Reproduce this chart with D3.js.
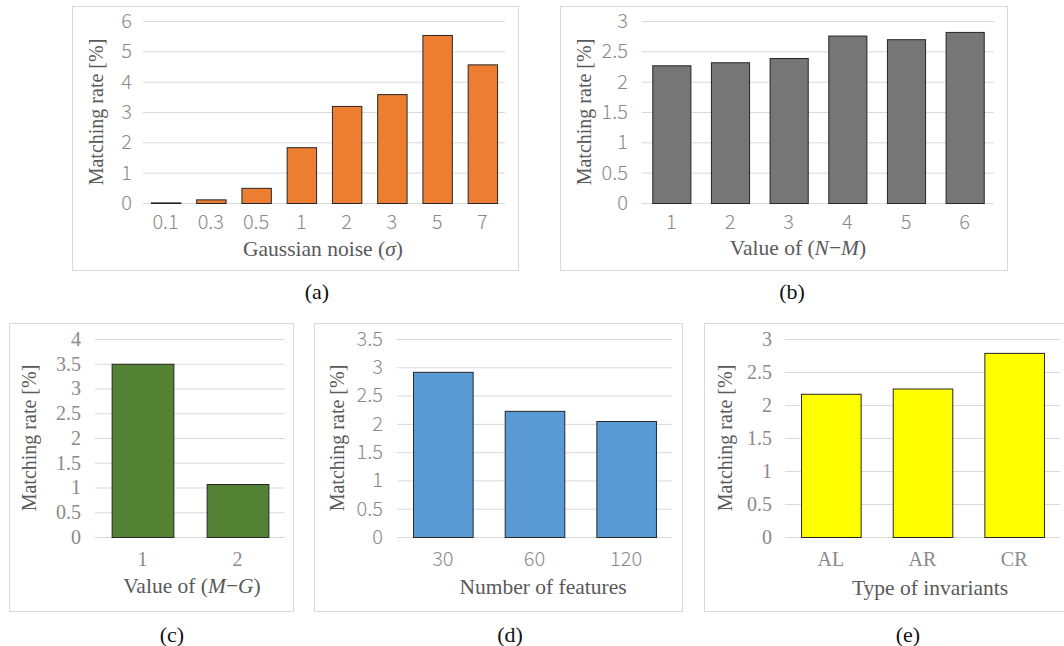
<!DOCTYPE html>
<html><head><meta charset="utf-8">
<script src="https://cdn.jsdelivr.net/npm/d3@7"></script>
<style>
html,body{margin:0;padding:0;background:#fff;}
svg{display:block;}
</style></head>
<body>
<svg id="c" width="1064" height="646"></svg>
<script>
// ---- data ----
const catsA = ["0.1","0.3","0.5","1","2","3","5","7"];
const valsA = [0.02,0.12,0.5,1.84,3.2,3.59,5.54,4.57];
const ticksA = [0,1,2,3,4,5,6];

const catsB = ["1","2","3","4","5","6"];
const valsB = [2.27,2.32,2.39,2.76,2.70,2.82];
const ticksB = [0,0.5,1,1.5,2,2.5,3];

const catsC = ["1","2"];
const valsC = [3.5,1.07];
const ticksC = [0,0.5,1,1.5,2,2.5,3,3.5,4];

const catsD = ["30","60","120"];
const valsD = [2.92,2.23,2.05];
const ticksD = [0,0.5,1,1.5,2,2.5,3,3.5];

const catsE = ["AL","AR","CR"];
const valsE = [2.17,2.25,2.79];
const ticksE = [0,0.5,1,1.5,2,2.5,3];

const SANS = "'Noto Sans CJK KR','Noto Sans',sans-serif";
const SERIF = "'Liberation Serif','DejaVu Serif',serif";

const svg = d3.select("#c");

function panel(o){
  const g = svg.append("g");
  // frame
  g.append("rect").attr("x",o.frame[0]+0.5).attr("y",o.frame[1]+0.5)
    .attr("width",o.frame[2]-o.frame[0]).attr("height",o.frame[3]-o.frame[1])
    .attr("fill","#fff").attr("stroke","#d9d9d9").attr("stroke-width",1);
  const x = d3.scaleBand().domain(o.cats).range([o.plot[0],o.plot[2]])
    .paddingInner(0.35).paddingOuter(0.175);
  const y = d3.scaleLinear().domain([0,o.ticks[o.ticks.length-1]]).range([o.plot[3],o.plot[1]]);
  // gridlines
  const ya = d3.axisLeft(y).tickValues(o.ticks).tickSize(-(o.plot[2]-o.plot[0])).tickPadding(o.tickPad)
    .tickFormat(d=>String(d));
  const yg = g.append("g").attr("transform",`translate(${o.plot[0]},0)`).call(ya);
  yg.select(".domain").remove();
  yg.selectAll(".tick line").attr("stroke","#d9d9d9").attr("stroke-width",1);
  yg.selectAll(".tick text").attr("fill","#8a8a8a").style("font-family",o.tickFont)
    .style("font-size",o.tickSize+"px").style("font-weight",o.tickWeight||400);
  // bars
  g.selectAll("rect.bar").data(o.vals).enter().append("rect").attr("class","bar")
    .attr("x",(d,i)=>x(o.cats[i])+0.5)
    .attr("y",d=>y(d)+0.5)
    .attr("width",x.bandwidth())
    .attr("height",d=>y(0)-y(d))
    .attr("fill",o.color).attr("stroke","#262626").attr("stroke-width",1);
  // x axis labels
  const xa = d3.axisBottom(x).tickSize(0).tickPadding(o.xPad);
  const xg = g.append("g").attr("transform",`translate(0,${o.plot[3]})`).call(xa);
  xg.select(".domain").remove();
  xg.selectAll(".tick text").attr("fill","#8a8a8a").style("font-family",o.tickFont)
    .style("font-size",o.tickSize+"px").style("font-weight",o.tickWeight||400);
  // x title
  const t = g.append("text").attr("x",o.xTitle[0]).attr("y",o.xTitle[1]).attr("text-anchor","middle")
    .attr("fill","#595959").style("font-family",SERIF).style("font-size","21.5px");
  o.xTitleParts.forEach(p=>{
    t.append("tspan").text(p[0]).style("font-style",p[1]?"italic":"normal");
  });
  // y title
  g.append("text").attr("transform",`translate(${o.yTitleX},${(o.plot[1]+o.plot[3])/2}) rotate(-90)`)
    .attr("text-anchor","middle").attr("dy","0.35em").attr("fill","#595959")
    .style("font-family",SERIF).style("font-size","20px").text("Matching rate [%]");
  // caption
  g.append("text").attr("x",o.cap[0]).attr("y",o.cap[1]).attr("text-anchor","middle")
    .attr("fill","#111").style("font-family",SERIF).style("font-size","22px").text(o.capText);
}

panel({frame:[72,6,518,270], plot:[143,21,505,203], cats:catsA, vals:valsA, ticks:ticksA,
  color:"#ED7D31", tickFont:SANS, tickSize:20, tickWeight:300, tickPad:11, xPad:12,
  xTitle:[323,256], xTitleParts:[["Gaussian noise (",0],["σ",1],[")",0]], yTitleX:96,
  cap:[317,299], capText:"(a)"});

panel({frame:[560,6,1007,270], plot:[642,21,994,203], cats:catsB, vals:valsB, ticks:ticksB,
  color:"#767676", tickFont:SANS, tickSize:20, tickWeight:300, tickPad:14, xPad:12,
  xTitle:[798,255], xTitleParts:[["Value of (",0],["N",1],["−",0],["M",1],[")",0]], yTitleX:584,
  cap:[792,299], capText:"(b)"});

panel({frame:[9,323,293,611], plot:[95,339,285,537], cats:catsC, vals:valsC, ticks:ticksC,
  color:"#548235", tickFont:SERIF, tickSize:20, tickPad:14, xPad:15,
  xTitle:[192,593], xTitleParts:[["Value of (",0],["M",1],["−",0],["G",1],[")",0]], yTitleX:29,
  cap:[172,642], capText:"(c)"});

panel({frame:[314,323,682,611], plot:[397,339,672,537], cats:catsD, vals:valsD, ticks:ticksD,
  color:"#5B9BD5", tickFont:SANS, tickSize:20, tickWeight:300, tickPad:14, xPad:15,
  xTitle:[543,594], xTitleParts:[["Number of features",0]], yTitleX:337,
  cap:[510,642], capText:"(d)"});

panel({frame:[704,323,1070,611], plot:[785,339,1060,537], cats:catsE, vals:valsE, ticks:ticksE,
  color:"#FFFF00", tickFont:SERIF, tickSize:20, tickPad:13, xPad:15,
  xTitle:[930,595], xTitleParts:[["Type of invariants",0]], yTitleX:725,
  cap:[908,642], capText:"(e)"});
</script>
</body></html>
